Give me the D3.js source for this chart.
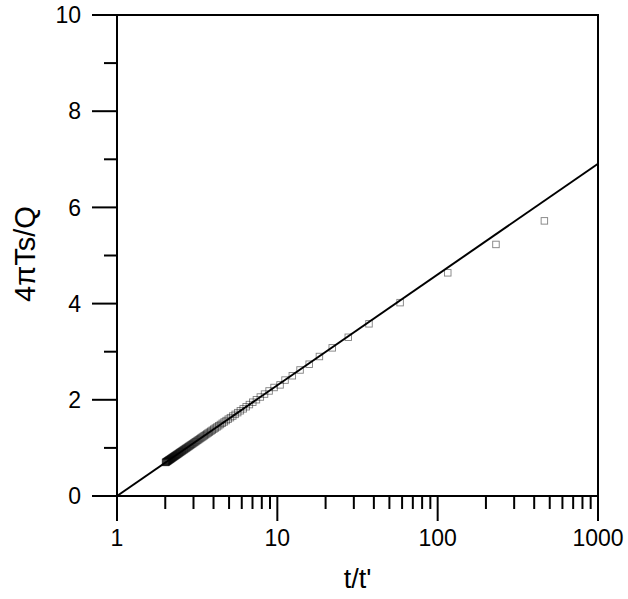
<!DOCTYPE html>
<html><head><meta charset="utf-8">
<script src="https://cdn.jsdelivr.net/npm/d3@7"></script>
<style>body{margin:0;background:#fff}svg{display:block}text{font-family:"Liberation Sans",Arial,sans-serif;fill:#000}</style>
</head><body><svg id="c" width="628" height="599"></svg>
<script>
// observed points: t/t' and 4πTs/Q
const ratioX = [463, 231, 115.6, 58.3, 37.3, 27.7, 22.0, 18.3, 15.8, 13.86, 12.4, 11.17, 10.4,
 9.542, 8.885, 8.321, 7.833, 7.406, 7.029, 6.694, 6.395, 6.125, 5.881, 5.659, 5.457, 5.271, 5.100,
 4.942, 4.796, 4.661, 4.534, 4.417, 4.306, 4.203, 4.106, 4.015, 3.929, 3.847, 3.770, 3.697, 3.628,
 3.563, 3.500, 3.440, 3.384, 3.330, 3.278, 3.228, 3.181, 3.135, 3.092, 3.050, 3.010, 2.971, 2.934,
 2.898, 2.864, 2.830, 2.798, 2.767, 2.737, 2.708, 2.680, 2.653, 2.627, 2.602, 2.577, 2.553, 2.530,
 2.507, 2.486, 2.464, 2.444, 2.424, 2.404, 2.385, 2.367, 2.349, 2.331, 2.314, 2.297, 2.281, 2.265,
 2.250, 2.235, 2.220, 2.206, 2.192, 2.178, 2.165, 2.152, 2.139, 2.126, 2.114, 2.102, 2.090, 2.079,
 2.068, 2.057, 2.046, 2.035, 2.025, 2.015, 2.005];
const drawdown = [5.72, 5.23, 4.64, 4.02, 3.58, 3.30, 3.08, 2.90, 2.74, 2.62, 2.50, 2.41, 2.31,
 2.256, 2.184, 2.119, 2.058, 2.002, 1.950, 1.901, 1.856, 1.812, 1.772, 1.733, 1.697, 1.662, 1.629,
 1.598, 1.568, 1.539, 1.512, 1.486, 1.460, 1.436, 1.413, 1.390, 1.368, 1.347, 1.327, 1.308, 1.289,
 1.271, 1.253, 1.236, 1.219, 1.203, 1.187, 1.172, 1.157, 1.143, 1.129, 1.115, 1.102, 1.089, 1.076,
 1.064, 1.052, 1.040, 1.029, 1.018, 1.007, 0.996, 0.986, 0.976, 0.966, 0.956, 0.947, 0.937, 0.928,
 0.919, 0.911, 0.902, 0.894, 0.885, 0.877, 0.869, 0.862, 0.854, 0.846, 0.839, 0.832, 0.825, 0.818,
 0.811, 0.804, 0.798, 0.791, 0.785, 0.778, 0.772, 0.766, 0.760, 0.754, 0.749, 0.743, 0.737, 0.732,
 0.727, 0.721, 0.716, 0.711, 0.706, 0.701, 0.696];
// fitted straight line
const lineX = [1, 1000];
const lineY = [0, 6.908];
const xTickLabels = ["1", "10", "100", "1000"];
const yTickLabels = ["0", "2", "4", "6", "8", "10"];
const xTitle = "t/t'";
const yTitle = "4\u03c0Ts/Q";

const L = 117, R = 598, T = 15, B = 496;
const svg = d3.select("#c");
const x = d3.scaleLog().domain([1, 1000]).range([L, R]);
const y = d3.scaleLinear().domain([0, 10]).range([B, T]);

// frame
svg.append("rect").attr("x", L).attr("y", T).attr("width", R - L).attr("height", B - T)
  .attr("fill", "none").attr("stroke", "#000").attr("stroke-width", 2);

// x axis ticks
const xMajor = xTickLabels.map(Number);
const xMinor = [];
[1, 10, 100].forEach(d => { for (let k = 2; k <= 9; k++) xMinor.push(d * k); });
const gx = svg.append("g");
gx.selectAll("line.mj").data(xMajor).join("line")
  .attr("x1", d => x(d)).attr("x2", d => x(d)).attr("y1", B).attr("y2", B + 25)
  .attr("stroke", "#000").attr("stroke-width", 2);
gx.selectAll("line.mn").data(xMinor).join("line")
  .attr("x1", d => x(d)).attr("x2", d => x(d)).attr("y1", B).attr("y2", B + 13)
  .attr("stroke", "#000").attr("stroke-width", 2);
gx.selectAll("text").data(xTickLabels).join("text")
  .attr("x", d => x(+d)).attr("y", 546).attr("text-anchor", "middle")
  .attr("font-size", 23).text(d => d);

// y axis ticks
const yMajor = yTickLabels.map(Number);
const yMinor = [1, 3, 5, 7, 9];
const gy = svg.append("g");
gy.selectAll("line.mj").data(yMajor).join("line")
  .attr("x1", L - 25).attr("x2", L).attr("y1", d => y(d)).attr("y2", d => y(d))
  .attr("stroke", "#000").attr("stroke-width", 2);
gy.selectAll("line.mn").data(yMinor).join("line")
  .attr("x1", L - 13).attr("x2", L).attr("y1", d => y(d)).attr("y2", d => y(d))
  .attr("stroke", "#000").attr("stroke-width", 2);
gy.selectAll("text").data(yTickLabels).join("text")
  .attr("x", 81).attr("y", d => y(+d)).attr("dy", "0.36em").attr("text-anchor", "end")
  .attr("font-size", 23).text(d => d);

// titles
svg.append("text").attr("x", (L + R) / 2).attr("y", 588).attr("text-anchor", "middle")
  .attr("font-size", 27).text(xTitle);
svg.append("text").attr("transform", "translate(35,254) rotate(-90)").attr("text-anchor", "middle")
  .attr("font-size", 29).text(yTitle);

// points
const pts = ratioX.map((d, i) => [d, drawdown[i]]);
const s = 6.5;
svg.append("g").selectAll("rect").data(pts).join("rect")
  .attr("x", d => x(d[0]) - s / 2).attr("y", d => y(d[1]) - s / 2)
  .attr("width", s).attr("height", s)
  .attr("fill", "none").attr("stroke", "#000").attr("stroke-opacity", 0.5).attr("stroke-width", 0.9);

// fitted line
svg.append("path").datum(lineX.map((d, i) => [d, lineY[i]]))
  .attr("d", d3.line().x(d => x(d[0])).y(d => y(d[1])))
  .attr("fill", "none").attr("stroke", "#000").attr("stroke-width", 2);
</script></body></html>
